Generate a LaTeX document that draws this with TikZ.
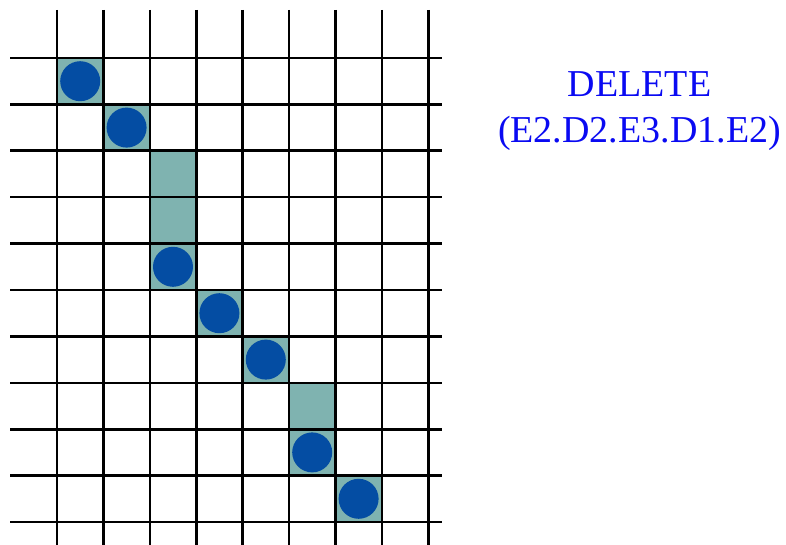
\documentclass[tikz,border=0pt]{standalone}
\usepackage{fontspec}
\setmainfont{Liberation Serif}
\begin{document}
\begin{tikzpicture}[x=1pt,y=-1pt,
  gridline/.style={line width=2.6pt,black},
  cellfill/.style={fill=teal0},
  token/.style={circle,fill=blue0,inner sep=0pt,minimum size=40pt}]
\definecolor{teal0}{HTML}{7FB3B0}
\definecolor{blue0}{HTML}{044DA3}
\definecolor{txtblue}{HTML}{0A0AF2}
\useasboundingbox (0,0) rectangle (786,545);
% cells (col,row)
\foreach \c/\r in {0/0,1/1,2/2,2/3,2/4,3/5,4/6,5/7,5/8,6/9}{
  \fill[teal0] (57+46.4*\c,58+46.4*\r) rectangle ++(46.4,46.4);
}
\foreach \c/\r/\n in {0/0/a,1/1/b,2/4/c,3/5/d,4/6/e,5/8/f,6/9/g}{
  \node[token] (\n) at (57+46.4*\c+23.2,58+46.4*\r+23.2) {};
}
\foreach \i in {0,...,8}{
  \draw[gridline] (57+46.4*\i,10) -- (57+46.4*\i,545);
}
\foreach \j in {0,...,10}{
  \draw[gridline] (10,58+46.4*\j) -- (442,58+46.4*\j);
}
\node[text=txtblue,font=\fontsize{38}{46}\selectfont,align=center,inner sep=0pt] (lbl) at (639.5,111) {DELETE\\(E2.D2.E3.D1.E2)};
\end{tikzpicture}
\end{document}
